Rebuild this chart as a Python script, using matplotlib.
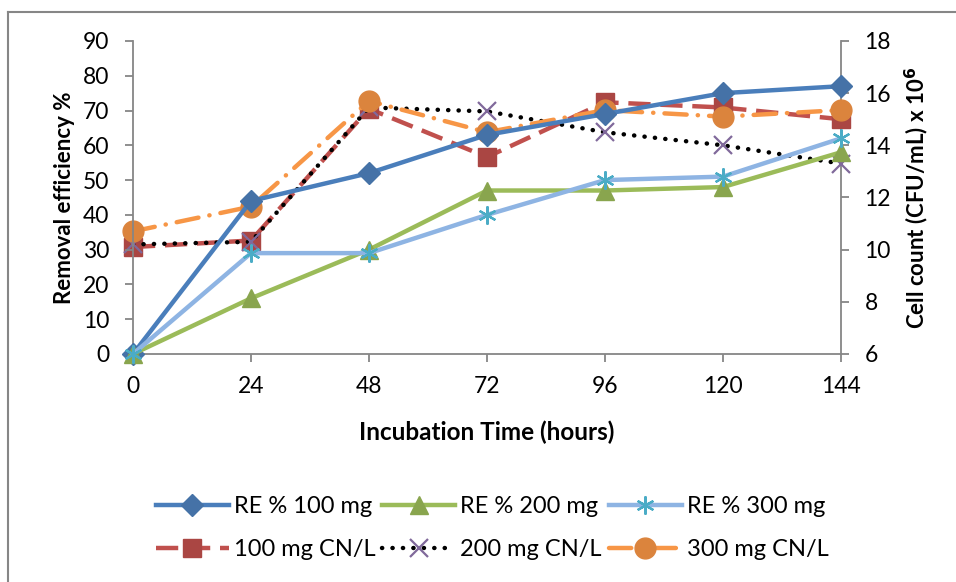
import matplotlib.pyplot as plt
from matplotlib.lines import Line2D

plt.rcParams['font.family'] = ['Lato', 'DejaVu Sans']

hours = [0, 24, 48, 72, 96, 120, 144]

# removal efficiency (%), left axis
re_100 = [0, 44, 52, 63, 69, 75, 77]
re_200 = [0, 16, 30, 47, 47, 48, 58]
re_300 = [0, 29, 29, 40, 50, 51, 62]

# cell count (CFU/mL x 10^6), right axis
cn_100 = [10.1, 10.35, 15.4, 13.55, 15.65, 15.45, 15.0]
cn_200 = [10.2, 10.3, 15.45, 15.3, 14.5, 14.0, 13.3]
cn_300 = [10.7, 11.65, 15.7, 14.5, 15.35, 15.1, 15.35]

AX_GREY = "#868686"

fig = plt.figure(figsize=(9.56, 5.82), dpi=100)
ax = fig.add_axes([0.1391, 0.3918, 0.7406, 0.5378])
ax2 = ax.twinx()

# Excel-like chart frame (left and top edges only visible)
fig.add_artist(Line2D([8 / 956, 8 / 956], [0, 1 - 12 / 582], transform=fig.transFigure,
                      color=AX_GREY, lw=1.5))
fig.add_artist(Line2D([8 / 956, 1], [1 - 12 / 582, 1 - 12 / 582], transform=fig.transFigure,
                      color=AX_GREY, lw=1.5))

lw = 3.2
h1, = ax.plot(hours, re_100, color="#4A7EBB", lw=lw, marker="D", ms=11,
              mfc="#4572A7", mec="#4572A7", label="RE % 100 mg", zorder=3)
h2, = ax.plot(hours, re_200, color="#9BBB59", lw=lw, marker="^", ms=13,
              mfc="#89A54E", mec="#89A54E", label="RE % 200 mg", zorder=3)
h3, = ax.plot(hours, re_300, color="#8EB4E3", lw=lw, marker=(6, 2, 0), ms=13, mew=1.6,
              mec="#4BACC6", label="RE % 300 mg", zorder=3)

h4, = ax2.plot(hours, cn_100, color="#C0504D", lw=lw, ls=(0, (5, 2.2)), marker="s", ms=13,
               mfc="#AA4643", mec="#AA4643", label="100 mg CN/L", zorder=3)
h5, = ax2.plot(hours, cn_200, color="black", lw=3.2, ls=(0, (0.05, 2.3)),
               dash_capstyle="round", marker="x", ms=13, mew=1.6, mec="#80699B",
               label="200 mg CN/L", zorder=3)
h6, = ax2.plot(hours, cn_300, color="#F79646", lw=lw, ls=(0, (5, 2.5, 0.05, 2.5)),
               dash_capstyle="round", marker="o", ms=15, mfc="#DB843D", mec="#DB843D",
               label="300 mg CN/L", zorder=3)

ax.set_xlim(0, 144)
ax.set_xticks(hours)
ax.set_ylim(0, 90)
ax.set_yticks(range(0, 91, 10))
ax2.set_ylim(6, 18)
ax2.set_yticks(range(6, 19, 2))

for a in (ax, ax2):
    for s in a.spines.values():
        s.set_visible(False)
    a.tick_params(labelsize=16.5, length=6, width=1.3, color=AX_GREY)
ax.tick_params(axis="y", pad=11)
ax.tick_params(axis="x", pad=10)
ax2.tick_params(axis="y", pad=11)
ax.spines["left"].set_visible(True)
ax.spines["bottom"].set_visible(True)
ax2.spines["right"].set_visible(True)
for s in (ax.spines["left"], ax.spines["bottom"], ax2.spines["right"]):
    s.set_color(AX_GREY)
    s.set_linewidth(1.3)
ax.set_zorder(ax2.get_zorder() + 1)
ax.patch.set_visible(False)
for ln in (h1, h2, h3, h4, h5, h6):
    ln.set_clip_on(False)

ax.set_xlabel("Incubation Time (hours)", fontsize=17.5, fontweight="bold", labelpad=17)
ax.set_ylabel("Removal efficiency %", fontsize=16, fontweight="bold", labelpad=6)
ax2.set_ylabel(r"Cell count (CFU/mL) x 10$^{\mathbf{6}}$", fontsize=16, fontweight="bold",
               labelpad=8)

fig.legend(handles=[h1, h4, h2, h5, h3, h6], ncol=3, loc="center",
           bbox_to_anchor=(492 / 956, 1 - 528 / 582), frameon=False, fontsize=17,
           handlelength=3.1, handletextpad=0.2, columnspacing=0.3, labelspacing=0.95)

fig.savefig("out.png", dpi=100)
